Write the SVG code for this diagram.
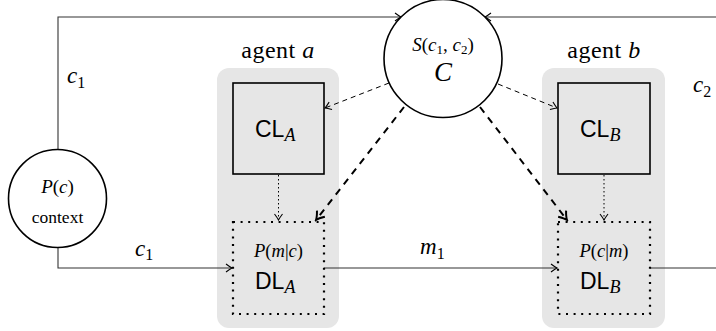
<svg xmlns="http://www.w3.org/2000/svg" width="716" height="331" viewBox="0 0 716 331">
<defs>
<style>
.agent{fill:#e6e6e6;stroke:none}
.node{fill:#fff;stroke:#000;stroke-width:1.6}
.cl{fill:#e6e6e6;stroke:#000;stroke-width:1.6}
.dl{fill:#e6e6e6;stroke:#000;stroke-width:2.2;stroke-dasharray:2 5.6}
.wire{fill:none;stroke:#333;stroke-width:1.1}
.thin{fill:none;stroke:#000;stroke-width:1;stroke-dasharray:5 4}
.thick{fill:none;stroke:#000;stroke-width:2;stroke-dasharray:7 6}
.dot{fill:none;stroke:#000;stroke-width:1;stroke-dasharray:1.5 2.5}
.rm{font-family:"Liberation Serif",serif;font-style:normal;fill:#000}
.it{font-family:"Liberation Serif",serif;font-style:italic;fill:#000}
.sf{font-family:"Liberation Sans",sans-serif;font-style:normal;fill:#000}
</style>
<marker id="ar" markerUnits="userSpaceOnUse" viewBox="-8 -5 10 10" refX="0" refY="0" markerWidth="10" markerHeight="10" orient="auto">
<path d="M-6,-4 Q-2,-1 0,0 Q-2,1 -6,4" fill="none" stroke="#000" stroke-width="1.1"/>
</marker>
<marker id="arb" markerUnits="userSpaceOnUse" viewBox="-10 -6 12 12" refX="0" refY="0" markerWidth="12" markerHeight="12" orient="auto">
<path d="M-8,-5 Q-3,-1 0,0 Q-3,1 -8,5" fill="none" stroke="#000" stroke-width="2"/>
</marker>
</defs>

<g id="agentA">
<rect class="agent" x="217" y="68" width="122" height="260" rx="12"/>
<text class="rm" x="278" y="58" font-size="24" text-anchor="middle" letter-spacing="0.5">agent <tspan class="it">a</tspan></text>
</g>
<g id="agentB">
<rect class="agent" x="542" y="68" width="123" height="260" rx="12"/>
<text class="rm" x="604" y="58" font-size="24" text-anchor="middle" letter-spacing="0.5">agent <tspan class="it">b</tspan></text>
</g>

<g id="connectors">
<path class="wire" d="M58,149.5 V17 H401" marker-end="url(#ar)"/>
<path class="wire" d="M716,17 H485" marker-end="url(#ar)"/>
<path class="wire" d="M58,247.5 V268 H232" marker-end="url(#ar)"/>
<path class="wire" d="M324,268 H557" marker-end="url(#ar)"/>
<path class="wire" d="M650,268 H716"/>
<path class="thin" d="M389,83 L325,108" marker-end="url(#ar)"/>
<path class="thin" d="M498,84 L557,108" marker-end="url(#ar)"/>
<path class="thick" d="M404,107 L316,220" marker-end="url(#arb)"/>
<path class="thick" d="M480,107 L567,220" marker-end="url(#arb)"/>
<path class="dot" d="M278.5,175 V220" marker-end="url(#ar)"/>
<path class="dot" d="M604,175 V220" marker-end="url(#ar)"/>
</g>

<g id="context">
<circle class="node" cx="57.5" cy="198.5" r="49"/>
<text x="57.5" y="193" font-size="19" text-anchor="middle" class="it">P<tspan class="rm">(</tspan>c<tspan class="rm">)</tspan></text>
<text class="rm" x="57.5" y="223" font-size="17.5" text-anchor="middle">context</text>
</g>

<g id="C">
<circle class="node" cx="443" cy="58.5" r="59"/>
<text x="443" y="51" font-size="19" text-anchor="middle" class="it">S<tspan class="rm">(</tspan>c<tspan class="rm" font-size="13" dy="3">1</tspan><tspan class="rm" dy="-3">, </tspan>c<tspan class="rm" font-size="13" dy="3">2</tspan><tspan class="rm" dy="-3">)</tspan></text>
<text class="it" x="443" y="81" font-size="27" text-anchor="middle">C</text>
</g>

<g id="CLA">
<rect class="cl" x="233" y="83" width="91" height="91"/>
<text class="sf" x="255" y="137" font-size="23">CL<tspan class="it" font-size="18" dy="4">A</tspan></text>
</g>
<g id="CLB">
<rect class="cl" x="558" y="83" width="92" height="91"/>
<text class="sf" x="580" y="137" font-size="23">CL<tspan class="it" font-size="18" dy="4">B</tspan></text>
</g>

<g id="DLA">
<rect class="dl" x="233" y="222" width="91" height="92"/>
<text x="278.5" y="257" font-size="18.5" text-anchor="middle" class="it">P<tspan class="rm">(</tspan>m<tspan class="rm">|</tspan>c<tspan class="rm">)</tspan></text>
<text class="sf" x="255" y="289" font-size="23">DL<tspan class="it" font-size="18" dy="4">A</tspan></text>
</g>
<g id="DLB">
<rect class="dl" x="558" y="222" width="92" height="92"/>
<text x="604" y="257" font-size="18.5" text-anchor="middle" class="it">P<tspan class="rm">(</tspan>c<tspan class="rm">|</tspan>m<tspan class="rm">)</tspan></text>
<text class="sf" x="580" y="289" font-size="23">DL<tspan class="it" font-size="18" dy="4">B</tspan></text>
</g>

<g id="labels">
<text class="it" x="67" y="83" font-size="23">c<tspan class="rm" font-size="16" dy="5">1</tspan></text>
<text class="it" x="135" y="256" font-size="23">c<tspan class="rm" font-size="16" dy="4">1</tspan></text>
<text class="it" x="420" y="254" font-size="23">m<tspan class="rm" font-size="16" dy="5">1</tspan></text>
<text class="it" x="693" y="92" font-size="23">c<tspan class="rm" font-size="16" dy="5">2</tspan></text>
</g>
</svg>
